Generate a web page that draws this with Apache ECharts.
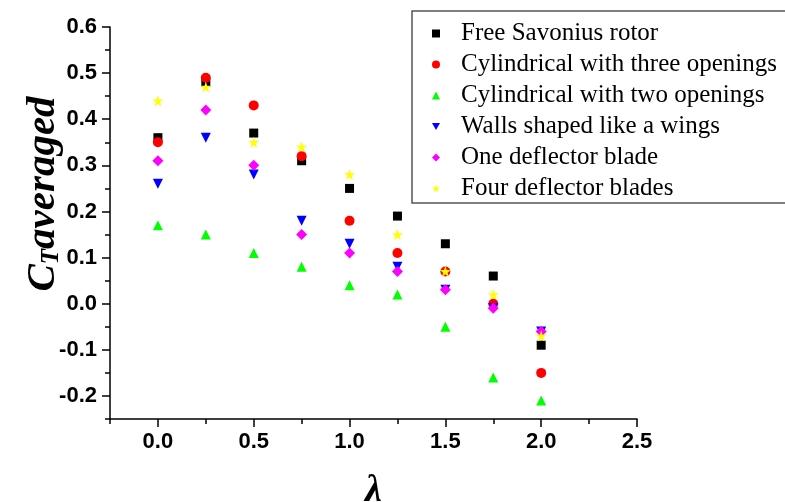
<!DOCTYPE html>
<html>
<head>
<meta charset="utf-8">
<script src="https://cdn.jsdelivr.net/npm/echarts@6/dist/echarts.min.js"></script>
<style>html,body{margin:0;padding:0;background:#fff;}#c{width:785px;height:502px;}</style>
</head>
<body>
<div id="c"></div>
<script>
const lambdaValues = [0, 0.25, 0.5, 0.75, 1.0, 1.25, 1.5, 1.75, 2.0];
const freeSavonius = [0.36, 0.48, 0.37, 0.31, 0.25, 0.19, 0.13, 0.06, -0.09];
const cylThree = [0.35, 0.49, 0.43, 0.32, 0.18, 0.11, 0.07, 0.00, -0.15];
const cylTwo = [0.17, 0.15, 0.11, 0.08, 0.04, 0.02, -0.05, -0.16, -0.21];
const wallsWings = [0.26, 0.36, 0.28, 0.18, 0.13, 0.08, 0.03, -0.01, -0.06];
const oneDeflector = [0.31, 0.42, 0.30, 0.15, 0.11, 0.07, 0.03, -0.01, -0.06];
const fourDeflector = [0.44, 0.47, 0.35, 0.34, 0.28, 0.15, 0.07, 0.02, -0.07];
const seriesNames = ['Free Savonius rotor', 'Cylindrical with three openings', 'Cylindrical with two openings', 'Walls shaped like a wings', 'One deflector blade', 'Four deflector blades'];
const xTicks = [0, 0.5, 1.0, 1.5, 2.0, 2.5];
const xMinorTicks = [-0.25, 0.25, 0.75, 1.25, 1.75, 2.25];
const yTicks = [-0.2, -0.1, 0.0, 0.1, 0.2, 0.3, 0.4, 0.5, 0.6];
const yMinorTicks = [-0.25, -0.15, -0.05, 0.05, 0.15, 0.25, 0.35, 0.45, 0.55];

const starPath = 'path://M50,0 L61.8,35.3 L98.9,35.3 L69,57.1 L80.3,92.7 L50,70.9 L19.7,92.7 L31,57.1 L1.1,35.3 L38.2,35.3 Z';
const downTriPath = 'path://M0,0 L10,0 L5,9 Z';
const styles = [
  {symbol: 'rect', legendIcon: 'rect', size: 9, color: '#000000', rotate: 0},
  {symbol: 'circle', legendIcon: 'circle', size: 10, color: '#ff0000', rotate: 0},
  {symbol: 'triangle', legendIcon: 'triangle', size: 10, color: '#00ff00', rotate: 0},
  {symbol: 'triangle', legendIcon: downTriPath, size: 10, color: '#0000ff', rotate: 180},
  {symbol: 'diamond', legendIcon: 'diamond', size: [11, 11], color: '#ff00ff', rotate: 0},
  {symbol: starPath, legendIcon: starPath, size: 11, color: '#ffff00', rotate: 0}
];
const allValues = [freeSavonius, cylThree, cylTwo, wallsWings, oneDeflector, fourDeflector];

const chart = echarts.init(document.getElementById('c'));
const labelFont = {fontFamily: 'Liberation Sans', fontWeight: 'bold', fontSize: 22, color: '#000'};
const axisLineStyle = {onZero: false, lineStyle: {color: '#000', width: 1.5}};

chart.setOption({
  animation: false,
  backgroundColor: '#fff',
  grid: {left: 110, right: 148, top: 27, bottom: 83, outerBoundsMode: 'none', containLabel: false},
  legend: {
    left: 412, top: 11,
    orient: 'vertical',
    data: seriesNames.map((n, i) => ({name: n, icon: styles[i].legendIcon})),
    itemWidth: 8, itemHeight: 8,
    itemGap: 6,
    padding: [10, 30, 2, 20],
    borderColor: '#555', borderWidth: 1.5,
    textStyle: {fontFamily: 'Liberation Serif', fontSize: 25, color: '#000', lineHeight: 25, padding: [0, 0, 0, 16]}
  },
  xAxis: [{
    type: 'value', min: -0.25, max: 2.5,
    name: 'λ', nameLocation: 'middle', nameGap: 53, nameMoveOverlap: false,
    nameTextStyle: {fontFamily: 'Liberation Serif', fontStyle: 'italic', fontWeight: 'bold', fontSize: 38, color: '#000'},
    axisLine: axisLineStyle,
    axisTick: {show: true, length: 8, lineStyle: {color: '#000', width: 1.5}, customValues: xTicks},
    axisLabel: Object.assign({customValues: xTicks, margin: 12, formatter: v => v.toFixed(1)}, labelFont),
    splitLine: {show: false}
  }, {
    type: 'value', min: -0.25, max: 2.5, position: 'bottom',
    axisLine: {show: false, onZero: false},
    axisTick: {show: true, length: 5, lineStyle: {color: '#000', width: 1.5}, customValues: xMinorTicks},
    axisLabel: {show: false},
    splitLine: {show: false}
  }],
  yAxis: [{
    type: 'value', min: -0.25, max: 0.6,
    name: '{c|C}{t|T}{a|averaged}', nameLocation: 'middle', nameGap: 46, nameRotate: 90, nameMoveOverlap: false,
    nameTextStyle: {
      padding: [0, 0, 0, 58],
      rich: {
        c: {fontFamily: 'Liberation Serif', fontStyle: 'italic', fontWeight: 'bold', fontSize: 41, color: '#000'},
        t: {fontFamily: 'Liberation Serif', fontStyle: 'italic', fontWeight: 'bold', fontSize: 25, color: '#000', verticalAlign: 'bottom', padding: [14, 0, 0, 0]},
        a: {fontFamily: 'Liberation Serif', fontStyle: 'italic', fontWeight: 'bold', fontSize: 41, color: '#000'}
      }
    },
    axisLine: axisLineStyle,
    axisTick: {show: true, length: 8, lineStyle: {color: '#000', width: 1.5}, customValues: yTicks},
    axisLabel: Object.assign({customValues: yTicks, margin: 13, formatter: v => v.toFixed(1)}, labelFont),
    splitLine: {show: false}
  }, {
    type: 'value', min: -0.25, max: 0.6, position: 'left',
    axisLine: {show: false, onZero: false},
    axisTick: {show: true, length: 5, lineStyle: {color: '#000', width: 1.5}, customValues: yMinorTicks},
    axisLabel: {show: false},
    splitLine: {show: false}
  }],
  series: seriesNames.map((n, i) => ({
    name: n, type: 'scatter',
    symbol: styles[i].symbol, symbolSize: styles[i].size, symbolRotate: styles[i].rotate,
    itemStyle: {color: styles[i].color, opacity: 1},
    data: lambdaValues.map((x, j) => [x, allValues[i][j]])
  }))
});
</script>
</body>
</html>
